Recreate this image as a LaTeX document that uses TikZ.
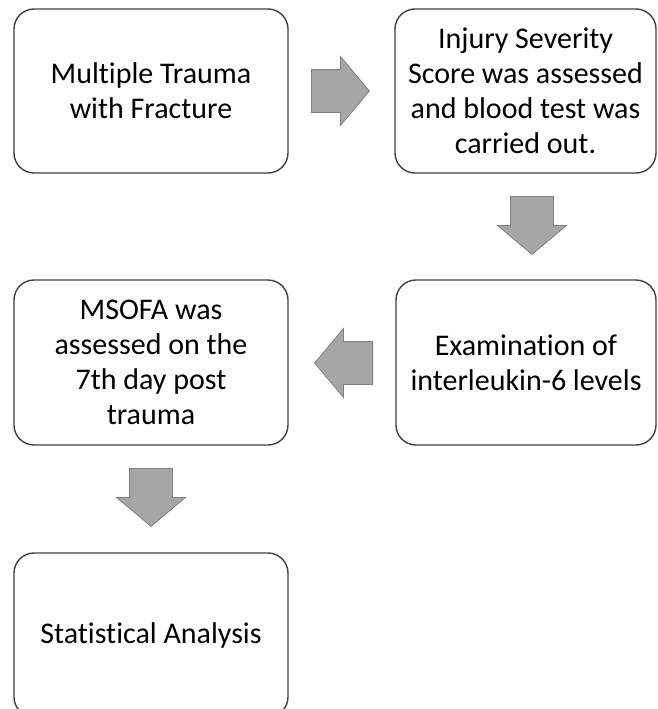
\documentclass[tikz,border=0pt]{standalone}
\usepackage{fontspec}
\setmainfont{Carlito}[Ligatures=NoCommon]
\definecolor{boxline}{HTML}{404040}
\definecolor{arrowfill}{HTML}{A6A6A6}
\definecolor{arrowline}{HTML}{808080}
\usetikzlibrary{shapes.arrows}

\begin{document}
\begin{tikzpicture}[x=1pt,y=-1pt,
    stage/.style={draw=boxline,line width=1.4pt,rounded corners=20pt,align=center,
      inner sep=0pt,font=\fontsize{30}{35}\selectfont},
    blockarrow/.style={single arrow,draw=arrowline,fill=arrowfill,line width=0.8pt,
      inner xsep=0pt,inner ysep=21pt,minimum height=58pt,anchor=tail,
      single arrow head extend=13pt,single arrow tip angle=100}]
  \useasboundingbox (0,0) rectangle (657,709);
  \node[stage,minimum width=274pt,minimum height=164pt] (trauma) at (151,91)
    {Multiple Trauma\\with Fracture};
  \node[stage,minimum width=261pt,minimum height=164pt] (severity) at (525.5,91)
    {Injury Severity\\Score was assessed\\and blood test was\\carried out.};
  \node[stage,minimum width=260pt,minimum height=165pt] (interleukin) at (526,362.5)
    {Examination of\\interleukin-6 levels};
  \node[stage,minimum width=274pt,minimum height=165pt] (msofa) at (151,362.5)
    {MSOFA was\\assessed on the\\7th day post\\trauma};
  \node[stage,minimum width=274pt,minimum height=164pt] (stats) at (151,635)
    {Statistical Analysis};
  \node[blockarrow] (toseverity) at (311,91) {};
  \node[blockarrow,rotate=-90] (tointerleukin) at (532,196) {};
  \node[blockarrow,rotate=180] (tomsofa) at (373,363) {};
  \node[blockarrow,rotate=-90] (tostats) at (151,468) {};
\end{tikzpicture}
\end{document}
